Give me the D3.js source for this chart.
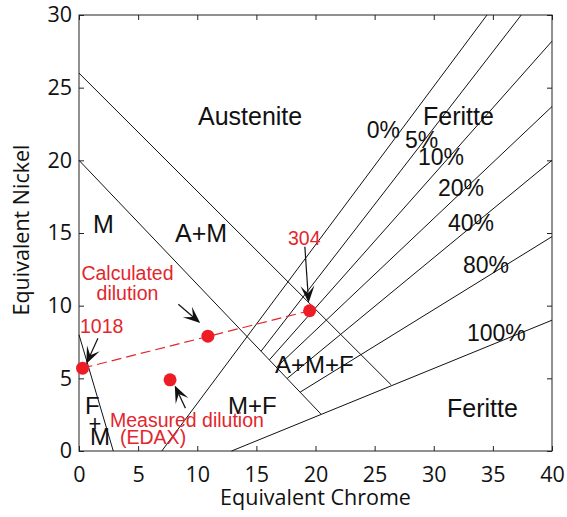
<!DOCTYPE html>
<html lang="en">
<head>
  <meta charset="UTF-8" />
  <title>Schaeffler diagram</title>
  <style>
    body { margin: 0; background: #fff; }
    svg { display: block; }
  </style>
</head>
<body>
  <svg width="567" height="517"></svg>

  <script src="https://d3js.org/d3.v7.min.js"></script>

  <script>
    // axis ticks
    const xTicks = [0, 5, 10, 15, 20, 25, 30, 35, 40];
    const yTicks = [0, 5, 10, 15, 20, 25, 30];

    // phase boundaries (Cr eq, Ni eq)
    const boundaries = [
      [[0, 26], [26.4, 4.55]],
      [[0, 20], [20.45, 2.55]],
      [[0, 8], [2.9, 0]]
    ];

    // ferrite iso-lines
    const ferriteLines = [
      [[7, 0], [34.5, 30]],
      [[15.4, 6.87], [37.4, 30]],
      [[16.1, 6.27], [40, 28.2]],
      [[16.7, 5.76], [40, 23.7]],
      [[17.6, 4.99], [40, 20.0]],
      [[18.7, 4.05], [40, 14.75]],
      [[12.9, 0], [40, 9.0]]
    ];

    // measured points
    const pointNames = ['1018', 'calculated', 'measured', '304'];
    const pointCr = [0.3, 10.9, 7.7, 19.5];
    const pointNi = [5.7, 7.9, 4.9, 9.65];

    // dilution line 1018 -> 304
    const dilution = [[0.3, 5.7], [19.5, 9.65]];

    // arrows: tail, tip
    const arrows = [
      [[1.6, 7.75], [0.62, 6.0]],
      [[8.4, 10.1], [10.25, 8.8]],
      [[9.0, 2.95], [8.1, 4.5]],
      [[19.1, 14.05], [19.42, 10.2]]
    ];

    // region labels [text, x, y, size]
    const regionLabels = [
      ['Austenite', 10.06, 22.43, 25],
      ['Feritte', 29.09, 22.43, 25],
      ['0%', 24.33, 21.54, 23],
      ['5%', 27.57, 20.85, 23],
      ['10%', 28.67, 19.68, 23],
      ['20%', 30.36, 17.55, 23],
      ['40%', 31.2, 15.14, 23],
      ['80%', 32.47, 12.25, 23],
      ['100%', 32.81, 7.57, 23],
      ['M', 1.18, 15.0, 25],
      ['A+M', 8.12, 14.38, 25],
      ['A+M+F', 16.58, 5.37, 24],
      ['M+F', 12.6, 2.55, 24],
      ['Feritte', 31.12, 2.34, 25],
      ['F', 0.5, 2.55, 24],
      ['M', 0.93, 0.41, 24]
    ];

    const redLabels = [
      ['Calculated', 4.1, 11.77, 'middle'],
      ['dilution', 4.1, 10.39, 'middle'],
      ['1018', 0.08, 8.12, 'start'],
      ['304', 17.67, 14.17, 'start'],
      ['Measured dilution', 2.62, 1.62, 'start'],
      ['(EDAX)', 3.47, 0.48, 'start']
    ];

    const margin = { top: 15, right: 15, bottom: 66, left: 79 };
    const width = 567, height = 517;

    const svg = d3.select('svg');

    const x = d3.scaleLinear().domain([0, 40]).range([margin.left, width - margin.right]);
    const y = d3.scaleLinear().domain([0, 30]).range([height - margin.bottom, margin.top]);

    const line = d3.line().x(d => x(d[0])).y(d => y(d[1]));

    const tickFont = '"Open Sans", sans-serif';
    const labelFont = '"Liberation Sans", Arial, sans-serif';
    const red = '#e3262d';

    // axes with inward ticks
    svg.append('g')
      .attr('transform', `translate(0,${y(0)})`)
      .call(d3.axisBottom(x).tickValues(xTicks).tickSize(-5).tickPadding(16).tickSizeOuter(0));
    svg.append('g')
      .attr('transform', `translate(${x(0)},0)`)
      .call(d3.axisLeft(y).tickValues(yTicks).tickSize(-5).tickPadding(7).tickSizeOuter(0));
    svg.append('g')
      .attr('transform', `translate(0,${y(30)})`)
      .call(d3.axisTop(x).tickValues(xTicks).tickSize(-5).tickFormat('').tickSizeOuter(0));
    svg.append('g')
      .attr('transform', `translate(${x(40)},0)`)
      .call(d3.axisRight(y).tickValues(yTicks).tickSize(-5).tickFormat('').tickSizeOuter(0));

    svg.selectAll('.domain').remove();
    svg.selectAll('.tick line').attr('stroke', '#222');
    svg.selectAll('.tick text')
      .attr('font-family', tickFont)
      .attr('font-size', 21.5)
      .attr('fill', '#111');

    svg.append('rect')
      .attr('x', x(0)).attr('y', y(30))
      .attr('width', x(40) - x(0)).attr('height', y(0) - y(30))
      .attr('fill', 'none').attr('stroke', '#222').attr('stroke-width', 1);

    // axis titles
    svg.append('text')
      .attr('x', (x(0) + x(40)) / 2).attr('y', 505)
      .attr('text-anchor', 'middle')
      .attr('font-family', tickFont).attr('font-size', 21.5).attr('fill', '#111')
      .text('Equivalent Chrome');
    svg.append('text')
      .attr('transform', `translate(29,${(y(0) + y(30)) / 2 - 3}) rotate(-90)`)
      .attr('text-anchor', 'middle')
      .attr('font-family', tickFont).attr('font-size', 21.5).attr('fill', '#111')
      .text('Equivalent Nickel');

    // diagram lines
    const g = svg.append('g');
    g.selectAll('.bound')
      .data(boundaries.concat(ferriteLines))
      .enter().append('path')
      .attr('d', line)
      .attr('fill', 'none')
      .attr('stroke', '#111')
      .attr('stroke-width', 1);

    // labels
    g.selectAll('.region')
      .data(regionLabels)
      .enter().append('text')
      .attr('x', d => x(d[1])).attr('y', d => y(d[2]))
      .attr('font-family', labelFont).attr('font-size', d => d[3]).attr('fill', '#111')
      .text(d => d[0]);
    g.append('text')
      .attr('x', x(1.35)).attr('y', y(1.4))
      .attr('text-anchor', 'middle')
      .attr('font-family', labelFont).attr('font-size', 22).attr('fill', '#111')
      .text('+');

    // dashed dilution line
    g.append('path')
      .attr('d', line(dilution))
      .attr('fill', 'none')
      .attr('stroke', red)
      .attr('stroke-width', 1.2)
      .attr('stroke-dasharray', '10,5');

    // points
    g.selectAll('.pt')
      .data(pointNames)
      .enter().append('circle')
      .attr('cx', (d, i) => x(pointCr[i]))
      .attr('cy', (d, i) => y(pointNi[i]))
      .attr('r', 6.5)
      .attr('fill', '#ee1c24');

    // red labels
    g.selectAll('.red')
      .data(redLabels)
      .enter().append('text')
      .attr('x', d => x(d[1])).attr('y', d => y(d[2]))
      .attr('text-anchor', d => d[3])
      .attr('font-family', labelFont).attr('font-size', 19.5).attr('fill', red)
      .text(d => d[0]);

    // arrows with barbed heads
    arrows.forEach(a => {
      const x1 = x(a[0][0]), y1 = y(a[0][1]);
      const x2 = x(a[1][0]), y2 = y(a[1][1]);
      const len = Math.hypot(x2 - x1, y2 - y1);
      const ux = (x2 - x1) / len, uy = (y2 - y1) / len;
      const nx = -uy, ny = ux;
      const L = 17, W = 14;
      g.append('line')
        .attr('x1', x1).attr('y1', y1)
        .attr('x2', x2 - ux * L * 0.5).attr('y2', y2 - uy * L * 0.5)
        .attr('stroke', '#111').attr('stroke-width', 1.2);
      const head = [
        [x2, y2],
        [x2 - ux * L + nx * W / 2, y2 - uy * L + ny * W / 2],
        [x2 - ux * L * 0.55, y2 - uy * L * 0.55],
        [x2 - ux * L - nx * W / 2, y2 - uy * L - ny * W / 2]
      ];
      g.append('path')
        .attr('d', 'M' + head.map(p => p.join(',')).join('L') + 'Z')
        .attr('fill', '#111');
    });
  </script>
</body>
</html>
